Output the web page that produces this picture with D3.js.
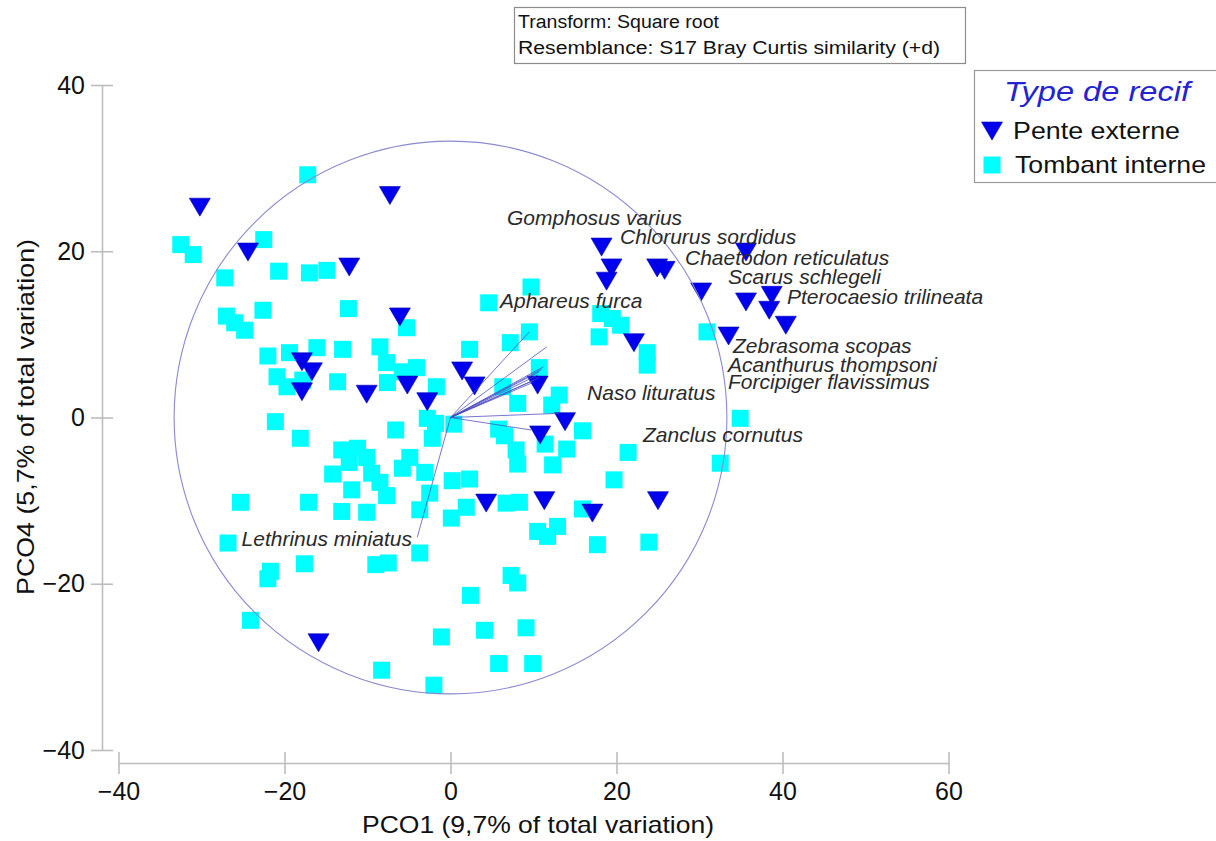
<!DOCTYPE html>
<html>
<head>
<meta charset="utf-8">
<script src="https://cdn.jsdelivr.net/npm/d3@7"></script>
<style>
  body { margin: 0; background: #fff; }
  svg { display: block; }
  text { font-family: "Liberation Sans", Arial, Helvetica, sans-serif; }
</style>
</head>
<body>
<svg id="chart" width="1216" height="841"></svg>
<script>
// ---- data ----
const xTicks = [-40, -20, 0, 20, 40, 60];
const yTicks = [-40, -20, 0, 20, 40];
const xTitle = "PCO1 (9,7% of total variation)";
const yTitle = "PCO4 (5,7% of total variation)";
const infoLines = ["Transform: Square root", "Resemblance: S17 Bray Curtis similarity (+d)"];
const legendTitle = "Type de recif";
const groups = ["Pente externe", "Tombant interne"];

// sample scores [PCO1, PCO4]
const penteExterne = [
  [-30.2, 25.3], [-7.3, 26.7], [-24.4, 19.9], [-12.2, 18.1], [-6.1, 12.1],
  [-17.9, 6.7], [-16.7, 5.5], [-17.9, 3.1], [-10.1, 2.8], [-5.2, 3.9],
  [-2.8, 1.9], [1.4, 5.6], [2.9, 3.8], [10.5, 3.9], [13.8, -0.5],
  [10.8, -2.1], [4.3, -10.3], [11.3, -10.0], [17.1, -11.5], [25.0, -10.0],
  [-15.9, -27.1], [18.2, 20.5], [19.4, 18.0], [18.8, 16.4], [24.9, 18.0],
  [25.8, 17.7], [35.6, 19.9], [30.2, 15.1], [35.6, 13.9], [38.7, 14.7],
  [38.4, 12.9], [40.4, 11.1], [33.5, 9.8], [22.1, 9.0]
];

const tombantInterne = [
  [-17.2, 29.2], [-32.5, 20.8], [-31.0, 19.6], [-22.5, 21.4], [-27.2, 16.8],
  [-20.7, 17.6], [-17.0, 17.4], [-14.9, 17.7], [-22.6, 12.9], [-12.3, 13.1],
  [-27.0, 12.2], [-26.0, 11.4], [-24.8, 10.5], [-5.3, 10.8], [4.6, 13.8],
  [9.7, 15.7], [-22.0, 7.4], [-19.4, 7.8], [-16.1, 8.4], [-13.0, 8.2],
  [-8.5, 8.5], [-7.7, 6.6], [-5.8, 5.5], [-4.1, 6.0], [-20.9, 4.9],
  [-19.7, 3.7], [-17.8, 4.5], [-13.6, 4.3], [-7.6, 4.2], [-1.7, 3.7],
  [2.3, 8.2], [7.2, 9.0], [9.5, 10.3], [10.7, 6.0], [6.3, 3.7],
  [8.1, 1.7], [13.1, 2.7], [12.2, 1.5], [-21.1, -0.5], [-18.1, -2.5],
  [-6.6, -1.5], [-2.8, -0.1], [-1.8, -0.7], [-2.2, -2.5], [0.4, -0.8],
  [5.8, -1.4], [6.5, -2.2], [7.9, -3.9], [8.1, -5.6], [11.4, -3.2],
  [14.0, -3.8], [15.9, -1.6], [12.3, -5.7], [21.4, -4.2], [19.7, -7.5],
  [-13.1, -3.9], [-11.2, -3.7], [-10.1, -4.8], [-12.2, -5.4], [-9.5, -6.7],
  [-8.5, -7.8], [-14.2, -6.8], [-11.9, -8.7], [-7.7, -9.4], [-13.1, -11.3],
  [-10.1, -11.4], [-4.9, -4.8], [-5.8, -6.1], [-3.1, -6.6], [-2.5, -9.1],
  [-3.7, -11.1], [0.2, -7.6], [2.3, -7.4], [0.1, -12.1], [1.9, -10.8],
  [6.7, -10.3], [8.3, -10.2], [15.9, -11.0], [10.5, -13.7], [11.7, -14.3],
  [12.9, -13.1], [17.7, -15.3], [23.9, -15.0], [-25.3, -10.2], [-17.1, -10.2],
  [-26.8, -15.1], [-17.6, -17.6], [-21.7, -18.5], [-22.0, -19.4], [-9.0, -17.7],
  [-7.5, -17.5], [-3.7, -16.3], [-24.1, -24.4], [2.4, -21.4], [7.3, -19.0],
  [8.1, -19.9], [-1.1, -26.4], [4.1, -25.6], [9.1, -25.3], [-8.3, -30.4],
  [-2.0, -32.2], [5.8, -29.6], [9.9, -29.6], [18.1, 12.5], [19.5, 11.9],
  [20.5, 11.1], [17.9, 9.7], [23.7, 7.8], [23.7, 6.3], [30.9, 10.3],
  [34.9, -0.1], [32.5, -5.5]
];

// species correlation vectors
const speciesNames = [
  "Lethrinus miniatus", "Aphareus furca", "Gomphosus varius", "Chlorurus sordidus",
  "Chaetodon reticulatus", "Scarus schlegeli", "Pterocaesio trilineata", "Zebrasoma scopas",
  "Acanthurus thompsoni", "Forcipiger flavissimus", "Naso lituratus", "Zanclus cornutus"
];
const vectorPCO1 = [-4.0, 9.5, 11.6, 11.2, 11.0, 10.7, 10.5, 10.7, 10.1, 9.9, 13.1, 9.7];
const vectorPCO4 = [-14.4, 10.3, 8.5, 6.1, 5.8, 5.5, 5.1, 4.8, 4.5, 4.2, 0.5, -1.5];
const circleRadius = 33.3;

// label anchors (PCO units) for species names
const labelPCO1 = [-4.64, 5.96, 6.81, 20.42, 28.25, 33.43, 40.54, 34.04, 33.43, 33.43, 16.45, 23.19];
const labelPCO4 = [-15.46, 13.14, 23.16, 20.84, 18.35, 16.02, 13.65, 7.72, 5.51, 3.39, 2.11, -2.91];

// ---- drawing ----
const svg = d3.select("#chart");
svg.append("rect").attr("width", 1216).attr("height", 841).attr("fill", "#fff");

const x = d3.scaleLinear().domain([-40, 60]).range([118.5, 948.5]);
const y = d3.scaleLinear().domain([-40, 40]).range([750, 85]);

const axisColor = "#bdbdbd";

// y axis
const gy = svg.append("g").attr("transform", "translate(102,0)")
  .call(d3.axisLeft(y).tickValues(yTicks).tickSize(11).tickSizeOuter(0).tickPadding(6));
gy.selectAll(".tick line").attr("x1", 11);
// x axis
const gx = svg.append("g").attr("transform", "translate(0,763)")
  .call(d3.axisBottom(x).tickValues(xTicks).tickSize(11).tickSizeOuter(0).tickPadding(8));
gx.selectAll(".tick line").attr("y1", -11);

[gx, gy].forEach(g => {
  g.select(".domain").attr("stroke", axisColor).attr("stroke-width", 1.6);
  g.selectAll(".tick line").attr("stroke", axisColor).attr("stroke-width", 1.6);
  g.selectAll(".tick text").attr("fill", "#111").style("font-size", "25px")
    .style("font-family", "'Liberation Sans', Arial, sans-serif");
});

// axis titles
svg.append("text")
  .attr("x", 538).attr("y", 833)
  .attr("text-anchor", "middle")
  .attr("textLength", 352).attr("lengthAdjust", "spacingAndGlyphs")
  .style("font-size", "24px").attr("fill", "#111")
  .text(xTitle);
svg.append("text")
  .attr("transform", "translate(34,417) rotate(-90)")
  .attr("text-anchor", "middle")
  .attr("textLength", 356).attr("lengthAdjust", "spacingAndGlyphs")
  .style("font-size", "24px").attr("fill", "#111")
  .text(yTitle);

// samples
const sq = 17;
svg.append("g").selectAll("rect")
  .data(tombantInterne).join("rect")
  .attr("x", d => x(d[0]) - sq / 2)
  .attr("y", d => y(d[1]) - sq / 2)
  .attr("width", sq).attr("height", sq)
  .attr("fill", "#00ffff");

const triPath = "M-10.5,-9L10.5,-9L0,9Z";
svg.append("g").selectAll("path")
  .data(penteExterne).join("path")
  .attr("d", triPath)
  .attr("transform", d => `translate(${x(d[0])},${y(d[1])})`)
  .attr("fill", "#0000ee")
  .attr("stroke", "#0000b0").attr("stroke-width", 0.6);

// correlation circle
svg.append("circle")
  .attr("cx", x(0)).attr("cy", y(0))
  .attr("r", x(circleRadius) - x(0))
  .attr("fill", "none").attr("stroke", "#8a8ad0").attr("stroke-width", 1.1);

// species vectors
svg.append("g").selectAll("line")
  .data(speciesNames).join("line")
  .attr("x1", x(0)).attr("y1", y(0))
  .attr("x2", (d, i) => x(vectorPCO1[i]))
  .attr("y2", (d, i) => y(vectorPCO4[i]))
  .attr("stroke", "#4848c0").attr("stroke-opacity", 0.75).attr("stroke-width", 1);

// species labels
svg.append("g").selectAll("text")
  .data(speciesNames).join("text")
  .attr("x", (d, i) => x(labelPCO1[i]))
  .attr("y", (d, i) => y(labelPCO4[i]))
  .attr("text-anchor", (d, i) => i === 0 ? "end" : "start")
  .style("font-size", "21px").style("font-style", "italic")
  .attr("fill", "#2a2a2a")
  .text(d => d);

// transform / resemblance box
svg.append("rect")
  .attr("x", 514.5).attr("y", 7.5).attr("width", 451).attr("height", 56)
  .attr("fill", "#fff").attr("stroke", "#8c8c8c").attr("stroke-width", 1.2);
svg.append("text").attr("x", 518).attr("y", 28)
  .attr("textLength", 201).attr("lengthAdjust", "spacingAndGlyphs")
  .style("font-size", "18px").attr("fill", "#111").text(infoLines[0]);
svg.append("text").attr("x", 518).attr("y", 54)
  .attr("textLength", 422).attr("lengthAdjust", "spacingAndGlyphs")
  .style("font-size", "18px").attr("fill", "#111").text(infoLines[1]);

// legend
const lg = svg.append("g");
lg.append("rect")
  .attr("x", 974.5).attr("y", 70.5).attr("width", 260).attr("height", 112)
  .attr("fill", "#fff").attr("stroke", "#9a9a9a").attr("stroke-width", 1.2);
lg.append("text")
  .attr("x", 1097).attr("y", 101).attr("text-anchor", "middle")
  .attr("textLength", 186).attr("lengthAdjust", "spacingAndGlyphs")
  .style("font-size", "28px").style("font-style", "italic")
  .attr("fill", "#2323d2").text(legendTitle);
lg.append("path").attr("d", triPath)
  .attr("transform", "translate(992,131)")
  .attr("fill", "#0000ee").attr("stroke", "#0000b0").attr("stroke-width", 0.6);
lg.append("rect")
  .attr("x", 992 - sq / 2).attr("y", 165 - sq / 2).attr("width", sq).attr("height", sq)
  .attr("fill", "#00ffff");
lg.append("text").attr("x", 1013).attr("y", 139)
  .attr("textLength", 167).attr("lengthAdjust", "spacingAndGlyphs")
  .style("font-size", "24px").attr("fill", "#111").text(groups[0]);
lg.append("text").attr("x", 1015).attr("y", 173)
  .attr("textLength", 191).attr("lengthAdjust", "spacingAndGlyphs")
  .style("font-size", "24px").attr("fill", "#111").text(groups[1]);
</script>
</body>
</html>
